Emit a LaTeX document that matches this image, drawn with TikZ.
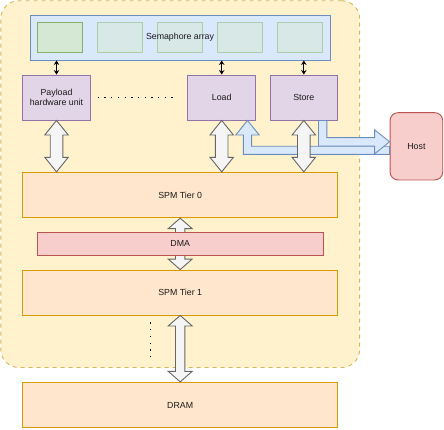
\documentclass[tikz,border=0pt]{standalone}
\usepackage{fontspec}
\setmainfont{Liberation Sans}
\usetikzlibrary{calc,arrows.meta}
\definecolor{grpfill}{HTML}{FFF2CC}
\definecolor{grpdraw}{HTML}{D6B656}
\definecolor{bluefill}{HTML}{DAE8FC}
\definecolor{bluedraw}{HTML}{6C8EBF}
\definecolor{greenfill}{HTML}{D5E8D4}
\definecolor{greendraw}{HTML}{82B366}
\definecolor{purpfill}{HTML}{E1D5E7}
\definecolor{purpdraw}{HTML}{9673A6}
\definecolor{orfill}{HTML}{FFE6CC}
\definecolor{ordraw}{HTML}{D79B00}
\definecolor{redfill}{HTML}{F8CECC}
\definecolor{reddraw}{HTML}{B85450}
\definecolor{greyfill}{HTML}{F5F5F5}
\definecolor{greydraw}{HTML}{666666}
\definecolor{txt}{HTML}{1A1A1A}
\tikzset{
  box/.style={draw, line width=0.9pt, inner sep=0pt, align=center, text=txt,
    font=\fontsize{8.8}{10.5}\selectfont},
  grpbox/.style={box, fill=grpfill, draw=grpdraw, dashed, dash pattern=on 4pt off 4pt, rounded corners=18pt},
  sembox/.style={box, fill=bluefill, draw=bluedraw},
  greenbox/.style={box, fill=greenfill, draw=greendraw, minimum width=45.5pt, minimum height=30pt},
  fadedgreen/.style={greenbox, opacity=0.5},
  unitbox/.style={box, fill=purpfill, draw=purpdraw, minimum width=67.6pt, minimum height=45pt},
  membox/.style={box, fill=orfill, draw=ordraw, minimum width=315pt, minimum height=45.4pt},
  dmabox/.style={box, fill=redfill, draw=reddraw, minimum width=285.7pt, minimum height=23pt},
  hostbox/.style={box, fill=redfill, draw=reddraw, rounded corners=8pt, minimum width=52.7pt, minimum height=67.3pt},
  hollow/.style={fill=greyfill, draw=greydraw, line width=0.9pt, line join=miter},
  bluearr/.style={fill=bluefill, draw=bluedraw, line width=0.9pt, line join=miter},
  smallarr/.style={draw=black, line width=1.3pt, {Stealth[length=4.5pt,width=5.5pt]}-{Stealth[length=4.5pt,width=5.5pt]}},
  dotline/.style={draw=black, line width=1.3pt, dash pattern=on 1.3pt off 5.4pt},
}
\newcommand{\vdbl}[5]{%
  \draw[hollow] let \p1=(#1), \p2=(#2) in
    (\x1,\y1) -- ({\x1+#4pt},{\y1-#5pt}) -- ({\x1+#3pt},{\y1-#5pt}) -- ({\x1+#3pt},{\y2+#5pt})
    -- ({\x1+#4pt},{\y2+#5pt}) -- (\x1,\y2) -- ({\x1-#4pt},{\y2+#5pt}) -- ({\x1-#3pt},{\y2+#5pt})
    -- ({\x1-#3pt},{\y1-#5pt}) -- ({\x1-#4pt},{\y1-#5pt}) -- cycle;}
\begin{document}
\begin{tikzpicture}[x=1pt,y=-1pt]
\useasboundingbox (0,0) rectangle (444,429);
% group
\node[grpbox, minimum width=358.8pt, minimum height=366.8pt] (grp) at (180.2,184.1) {};
% semaphore array
\node[sembox, minimum width=300pt, minimum height=45pt] (sem) at (180,37.5) {};
\node[greenbox] (g1) at (60,37.7) {};
\node[fadedgreen] (g2) at (120,37.7) {};
\node[fadedgreen] (g3) at (180,37.7) {};
\node[fadedgreen] (g4) at (240,37.7) {};
\node[fadedgreen] (g5) at (300,37.7) {};
\node[box, draw=none] (semlabel) at (180,37) {Semaphore array};
% units
\node[unitbox] (pay) at (56.5,97.5) {Payload\\hardware unit};
\node[unitbox] (load) at (221.7,97.5) {Load};
\node[unitbox] (store) at (303.8,97.5) {Store};
% memories
\node[membox] (spm0) at (180.2,195) {SPM Tier 0};
\node[membox, minimum height=45pt] (spm1) at (180.2,292.5) {SPM Tier 1};
\node[membox] (dram) at (180.2,405) {DRAM};
\node[hostbox] (host) at (416.4,146.3) {Host};
% small arrows
\draw[smallarr] (sem.south -| pay.north) -- (pay.north);
\draw[smallarr] (sem.south -| load.north) -- (load.north);
\draw[smallarr] (sem.south -| store.north) -- (store.north);
% dotted lines
\draw[dotline] ($(pay.east)+(7,0)$) -- ($(load.west)+(-10,0)$);
\draw[dotline] ($(spm1.south)+(-30,7)$) -- ($(spm1.south)+(-30,46)$);
% blue arrows: host -> load
\draw[bluearr] let \p1=($(load.south)+(25.8,0)$), \p2=($(host.west)+(0,4)$) in
  (\x2,{\y2+4.1pt}) -- ({\x1+4.1pt},{\y2+4.1pt}) -- ({\x1+4.1pt},{\y1-14.5pt}) -- ({\x1+11.7pt},{\y1-14.5pt})
  -- (\x1,\y1) -- ({\x1-11.7pt},{\y1-14.5pt}) -- ({\x1-4.1pt},{\y1-14.5pt}) -- ({\x1-4.1pt},{\y2-4.1pt})
  -- (\x2,{\y2-4.1pt}) -- cycle;
% store -> host
\draw[bluearr] let \p1=($(store.south)+(18.9,0)$), \p2=($(host.west)+(0,-4.5)$) in
  ({\x1-4.2pt},\y1) -- ({\x1-4.2pt},{\y2-4.2pt}) -- ({\x2-15pt},{\y2-4.2pt}) -- ({\x2-15pt},{\y2-12pt})
  -- (\x2,\y2) -- ({\x2-15pt},{\y2+12pt}) -- ({\x2-15pt},{\y2+4.2pt}) -- ({\x1+4.2pt},{\y2+4.2pt})
  -- ({\x1+4.2pt},\y1) -- cycle;
% grey double arrows
\vdbl{pay.south}{pay.south |- spm0.north}{6.3}{11.7}{14.5}
\vdbl{load.south}{load.south |- spm0.north}{6.3}{11.7}{14.5}
\vdbl{store.south}{store.south |- spm0.north}{6.3}{11.7}{14.5}
\vdbl{spm0.south}{spm1.north}{4.7}{12}{10.5}
\vdbl{spm1.south}{dram.north}{4.7}{12}{10.5}
% DMA over its arrow
\node[dmabox] (dma) at (180.2,243.8) {DMA};
\end{tikzpicture}
\end{document}
